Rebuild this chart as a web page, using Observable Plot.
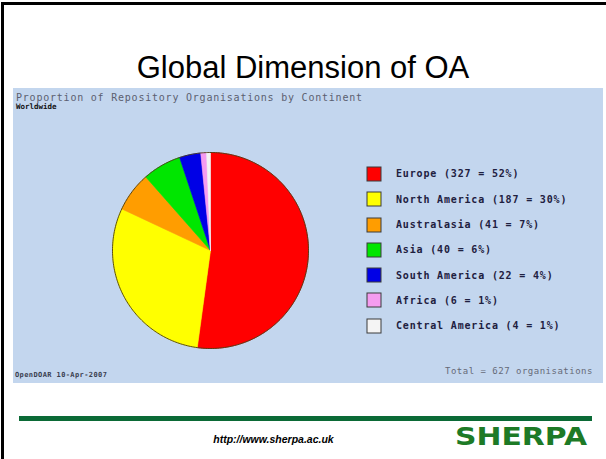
<!DOCTYPE html>
<html><head><meta charset="utf-8">
<script src="https://cdn.jsdelivr.net/npm/d3@7"></script>
<script src="https://cdn.jsdelivr.net/npm/@observablehq/plot@0.6"></script>
<style>
html,body{margin:0;padding:0;background:#fff;overflow:hidden;}
body{width:606px;height:459px;position:relative;overflow:hidden;font-family:"Liberation Sans",Arial,sans-serif;}
.abs{position:absolute;white-space:nowrap;}
#frame{position:absolute;left:1px;top:2px;width:602px;height:457px;border-left:3px solid #000;border-top:3px solid #000;}
#title{left:0;width:606px;text-align:center;top:52px;font-size:31px;line-height:1;color:#000;}
#panel{left:13px;top:88px;width:590px;height:295px;background:#c3d6ee;}
.mono{font-family:"DejaVu Sans Mono",monospace;line-height:1;}
#ptitle{left:16px;top:93px;font-size:10px;letter-spacing:0.78px;color:#5b6070;}
#psub{left:16px;top:103px;font-size:7.5px;font-weight:bold;color:#111;}
#pie{left:111px;top:151px;}
#legend{left:367px;top:161.3px;}
.lg{font-family:"DejaVu Sans Mono",monospace !important;margin:0 !important;}
.lg-swatch{height:25.3px;padding:0 !important;display:flex;align-items:center;}
.lg-swatch > svg{margin-right:15px !important;}
.lg-swatch rect{stroke:#3a3a3a;stroke-width:1px;}
.lg-swatch-label{font-family:"DejaVu Sans Mono",monospace;font-size:10px;font-weight:bold;letter-spacing:0.83px;color:#1e2040;}
#total{left:445px;top:367px;font-size:9px;letter-spacing:0.5px;color:#666a78;}
#src{left:15px;top:372px;font-size:7px;letter-spacing:0.4px;font-weight:bold;color:#3a4050;}
#rule{left:19px;top:416px;width:573px;height:5px;background:#0b6a36;}
#url{left:180px;width:187px;text-align:center;top:434px;font-size:10.5px;font-weight:bold;font-style:italic;line-height:1;color:#000;}
#logo{left:455px;top:421px;overflow:visible;}
</style></head>
<body>
<div id="frame"></div>
<div id="title" class="abs">Global Dimension of OA</div>
<div id="panel" class="abs"></div>
<div id="ptitle" class="abs mono">Proportion of Repository Organisations by Continent</div>
<div id="psub" class="abs mono">Worldwide</div>
<div id="pie" class="abs"></div>
<div id="legend" class="abs"></div>
<div id="total" class="abs mono">Total = 627 organisations</div>
<div id="src" class="abs mono">OpenDOAR 10-Apr-2007</div>
<div id="rule" class="abs"></div>
<div id="url" class="abs">http://www.sherpa.ac.uk</div>
<svg id="logo" class="abs" width="136" height="34"><text x="0" y="24" textLength="132" lengthAdjust="spacingAndGlyphs" font-family="DejaVu Sans" font-weight="bold" font-size="24" fill="#1d7a26">SHERPA</text></svg>
<script>
const continents = ["Europe","North America","Australasia","Asia","South America","Africa","Central America"];
const counts = [327,187,41,40,22,6,4];
const percents = [52,30,7,6,4,1,1];
const colors = ["#ff0000","#ffff00","#ff9d00","#00e600","#0000e6","#f59cf0","#f4f4f4"];

const total = d3.sum(counts);
const slicePts = [];
const rimPts = [];
let cum = 0;
continents.forEach((c, i) => {
  const a0 = cum / total * 2 * Math.PI;
  cum += counts[i];
  const a1 = cum / total * 2 * Math.PI;
  const n = Math.max(2, Math.ceil((a1 - a0) / (Math.PI / 180)));
  slicePts.push({c, x: 0, y: 0});
  for (let k = 0; k <= n; k++) {
    const a = a0 + (a1 - a0) * k / n;
    const p = {c, x: Math.sin(a), y: Math.cos(a)};
    slicePts.push(p);
    rimPts.push(p);
  }
  slicePts.push({c, x: 0, y: 0});
});

const colorScale = {domain: continents, range: colors};

const pie = Plot.plot({
  width: 198, height: 198, margin: 1,
  x: {domain: [-1, 1], axis: null},
  y: {domain: [-1, 1], axis: null},
  color: colorScale,
  style: {background: "transparent", overflow: "visible"},
  marks: [
    Plot.line(slicePts, {x: "x", y: "y", z: "c", fill: "c", stroke: "c", strokeWidth: 0.6, curve: "linear"}),
    Plot.line(rimPts, {x: "x", y: "y", stroke: "#4a3a10", strokeWidth: 0.9, curve: "linear"})
  ]
});
document.getElementById("pie").appendChild(pie);

const labelOf = new Map(continents.map((c, i) => [c, `${c} (${counts[i]} = ${percents[i]}%)`]));
const legend = Plot.legend({
  color: {type: "ordinal", ...colorScale},
  legend: "swatches",
  columns: 1,
  swatchSize: 14,
  className: "lg",
  tickFormat: d => labelOf.get(d)
});
document.getElementById("legend").appendChild(legend);
</script>
</body></html>
